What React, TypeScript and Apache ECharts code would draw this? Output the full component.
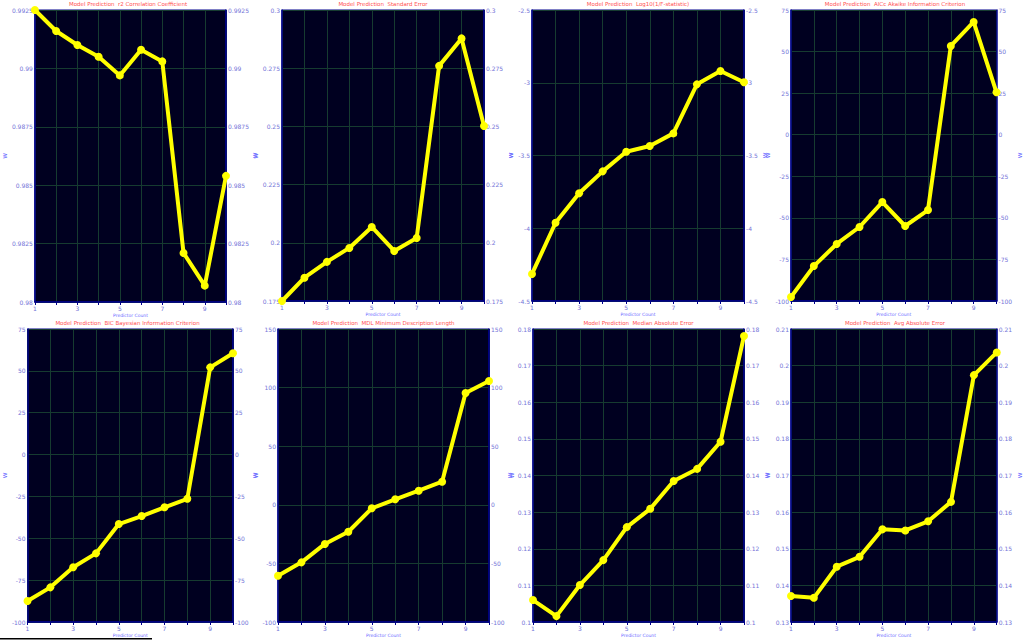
import React, { useEffect, useRef } from "react";
import * as echarts from "echarts";

const predictorCounts = [1, 2, 3, 4, 5, 6, 7, 8, 9, 10];

const titles = [
  "Model Prediction  r2 Correlation Coefficient",
  "Model Prediction  Standard Error",
  "Model Prediction  Log10(1/F-statistic)",
  "Model Prediction  AICc Akaike Information Criterion",
  "Model Prediction  BIC Bayesian Information Criterion",
  "Model Prediction  MDL Minimum Description Length",
  "Model Prediction  Median Absolute Error",
  "Model Prediction  Avg Absolute Error",
];

const r2Values = [0.9925, 0.9916, 0.991, 0.9905, 0.9897, 0.9908, 0.9903, 0.9821, 0.9807, 0.9854];
const stdErrValues = [0.175, 0.185, 0.1918, 0.1978, 0.2068, 0.1965, 0.2021, 0.276, 0.2878, 0.2502];
const logFValues = [-4.314, -3.962, -3.76, -3.609, -3.474, -3.435, -3.348, -3.011, -2.919, -2.997];
const aiccValues = [-97.6, -79, -65.7, -55.5, -40.5, -54.9, -45.3, 53.4, 67.8, 25.5];
const bicValues = [-87.5, -79.3, -67.3, -59, -41.5, -36.7, -31.5, -26.4, 52.1, 60.5];
const mdlValues = [-60.5, -49.1, -33.4, -23, -3, 4.7, 12, 19.7, 95.4, 105.6];
const medianAbsValues = [0.106, 0.1016, 0.1101, 0.1169, 0.1259, 0.1309, 0.1385, 0.1418, 0.1492, 0.1781];
const avgAbsValues = [0.1371, 0.1366, 0.1451, 0.1478, 0.1553, 0.155, 0.1575, 0.1628, 0.1974, 0.2036];

const seriesValues = [r2Values, stdErrValues, logFValues, aiccValues, bicValues, mdlValues, medianAbsValues, avgAbsValues];

// y axis ranges [min, max, interval]
const yRanges = [
  [0.98, 0.9925, 0.0025],
  [0.175, 0.3, 0.025],
  [-4.5, -2.5, 0.5],
  [-100, 75, 25],
  [-100, 75, 25],
  [-100, 150, 50],
  [0.1, 0.18, 0.01],
  [0.13, 0.21, 0.01],
];

// layout: left, top, width, height, leftNameGap, rightNameGap
const grids = [
  [30, 10, 196, 292, 23, 22],
  [282, 10, 202, 291, 18, 19],
  [532, 10, 212, 291, 15, 14],
  [791, 10, 208, 291, 16, 15],
  [22, 329, 211, 293, 15, 16],
  [278, 329, 211, 293, 16, 15],
  [533, 329, 211, 293, 13, 16],
  [791, 329, 208, 293, 16, 16],
];

const LABEL = "#7373d8";
const AXIS = "#00008c";
const GRIDLINE = "#163b30";
const fmt = (v: number) => String(parseFloat(v.toFixed(6)));

export default function App() {
  const ref = useRef<HTMLDivElement>(null);
  useEffect(() => {
    if (!ref.current) return;
    const chart = echarts.init(ref.current, undefined, { renderer: "svg" });
    const grid: any[] = [];
    const xAxis: any[] = [];
    const yAxis: any[] = [];
    const series: any[] = [];
    const title: any[] = [];
    grids.forEach((g, i) => {
      const [left, top, width, height, lg, rg] = g;
      const [mn, mx, iv] = yRanges[i];
      grid.push({
        left, top, width, height,
        show: true, backgroundColor: "#000020", borderColor: AXIS, borderWidth: 1,
        containLabel: false,
      });
      title.push({
        text: titles[i],
        left: left + width / 2,
        top: top - 9,
        padding: 0,
        textAlign: "center",
        textStyle: { color: "#ff5050", fontSize: 5.5, fontWeight: "normal", fontFamily: "DejaVu Sans" },
      });
      xAxis.push({
        type: "value", gridIndex: i, min: 1, max: 10, interval: 1,
        name: "Predictor Count", nameLocation: "middle", nameGap: 11,
        nameTextStyle: { color: "#6a6aff", fontSize: 4.5, fontFamily: "DejaVu Sans" },
        axisLine: { show: true, onZero: false, lineStyle: { color: AXIS, width: 1.5 } },
        axisTick: { show: true, length: 3, lineStyle: { color: AXIS } },
        axisLabel: {
          color: LABEL, fontSize: 6, margin: 3, fontFamily: "DejaVu Sans",
          formatter: (v: number) => (v % 2 === 1 ? String(v) : ""),
        },
        splitLine: { show: true, lineStyle: { color: GRIDLINE, width: 1 } },
      });
      const yCommon = {
        type: "value", gridIndex: i, min: mn, max: mx, interval: iv,
        name: "w", nameLocation: "middle", nameRotate: 90,
        nameTextStyle: { color: "#6a6aff", fontSize: 7, fontFamily: "DejaVu Sans" },
        axisLine: { show: true, onZero: false, lineStyle: { color: AXIS, width: 1.5 } },
        axisTick: { show: false },
        axisLabel: { color: LABEL, fontSize: 6, margin: 2, fontFamily: "DejaVu Sans", formatter: fmt },
      };
      yAxis.push({ ...yCommon, position: "left", nameGap: lg, splitLine: { show: true, lineStyle: { color: GRIDLINE, width: 1 } } });
      yAxis.push({ ...yCommon, position: "right", nameGap: rg, splitLine: { show: false } });
      series.push({
        type: "line", xAxisIndex: i, yAxisIndex: i * 2,
        data: predictorCounts.map((x, k) => [x, seriesValues[i][k]]),
        lineStyle: { color: "#ffff00", width: 4 },
        itemStyle: { color: "#ffff00" },
        symbol: "circle", symbolSize: 8,
        clip: false,
      });
    });
    chart.setOption({
      animation: false,
      backgroundColor: "#ffffff",
      title, grid, xAxis, yAxis, series,
      graphic: [
        { type: "rect", shape: { x: 0, y: 638, width: 152, height: 1.5 }, style: { fill: "#000000" } },
      ],
    });
    return () => chart.dispose();
  }, []);
  return <div ref={ref} style={{ position: "fixed", left: 0, top: 0, width: 1024, height: 640 }} />;
}
